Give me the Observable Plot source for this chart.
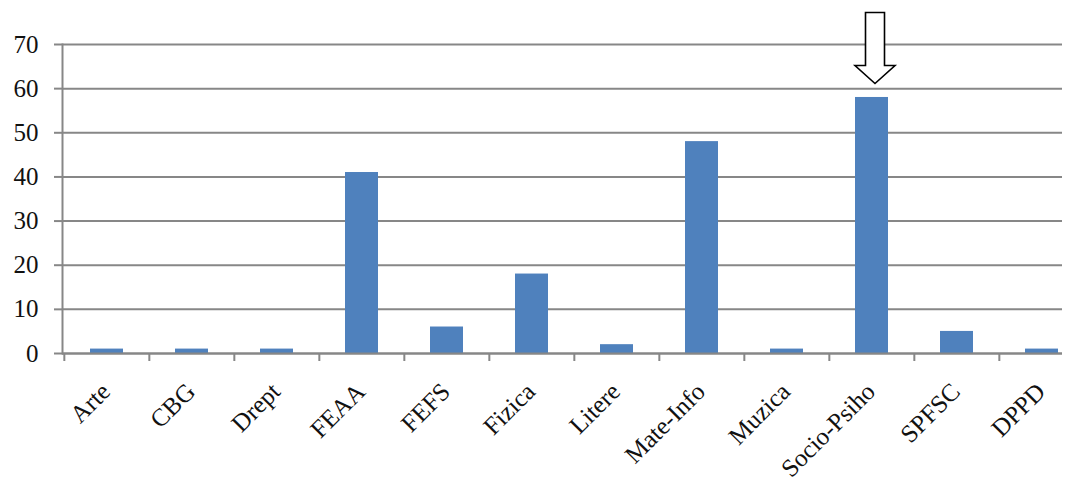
<!DOCTYPE html>
<html>
<head>
<meta charset="utf-8">
<script src="https://cdn.jsdelivr.net/npm/d3@7"></script>
<script src="https://cdn.jsdelivr.net/npm/@observablehq/plot@0.6"></script>
<style>
  html, body { margin: 0; padding: 0; background: #fff; }
</style>
</head>
<body>
<div id="chart"></div>
<script>
const categories = ["Arte", "CBG", "Drept", "FEAA", "FEFS", "Fizica", "Litere", "Mate-Info", "Muzica", "Socio-Psiho", "SPFSC", "DPPD"];
const values = [1, 1, 1, 41, 6, 18, 2, 48, 1, 58, 5, 1];
const yTicks = [0, 10, 20, 30, 40, 50, 60, 70];
const highlight = ["Socio-Psiho"];

const data = categories.map((c, i) => ({category: c, value: values[i]}));
const marked = data.filter(d => highlight.includes(d.category));

const W = 1076, H = 481;
const mL = 62, mR = 14, mT = 44, mB = 128;
const band = 85.33;

const blockArrow = {
  draw(context, l, r) {
    const head = 18, shaft = 9.5, wing = 20;
    context.moveTo(-shaft, 0);
    context.lineTo(-shaft, -(l - head));
    context.lineTo(-wing, -(l - head));
    context.lineTo(0, -l);
    context.lineTo(wing, -(l - head));
    context.lineTo(shaft, -(l - head));
    context.lineTo(shaft, 0);
    context.closePath();
  }
};

const gray = "#878787";

const chart = Plot.plot({
  width: W,
  height: H,
  marginLeft: mL,
  marginRight: mR,
  marginTop: mT,
  marginBottom: mB,
  style: {fontFamily: "'Liberation Serif', 'Times New Roman', serif", fontSize: "25px", color: "#111", background: "#fff"},
  x: {domain: categories, range: [mL, mL + band * 12], paddingInner: 0.61, paddingOuter: 0.305, align: 0.5},
  y: {domain: [0, 70], ticks: yTicks},
  marks: [
    Plot.ruleY(yTicks, {stroke: gray, strokeWidth: 2}),
    Plot.barY(data, {x: "category", y: "value", fill: "#4F81BD"}),
    Plot.ruleY([0], {stroke: gray, strokeWidth: 2}),
    Plot.frame({anchor: "left", stroke: gray, strokeWidth: 2}),
    Plot.axisY({ticks: yTicks, tickSize: 8, tickPadding: 16, stroke: gray, strokeWidth: 2, strokeOpacity: 1, fill: "#111", label: null, fontSize: 25}),
    Plot.axisX({tickSize: 8, text: null, dx: -band / 2, stroke: gray, strokeWidth: 2, strokeOpacity: 1, label: null}),
    Plot.axisX({tickSize: 0, tickPadding: 34, tickRotate: -45, fill: "#111", label: null, fontSize: 25, dx: -1}),
    Plot.vector(marked, {x: "category", y: "value", length: 71, rotate: 180, anchor: "end", shape: blockArrow, fill: "white", stroke: "black", strokeWidth: 1.6, strokeLinejoin: "miter", dy: -14, dx: 3})
  ]
});

document.getElementById("chart").appendChild(chart);
</script>
</body>
</html>
